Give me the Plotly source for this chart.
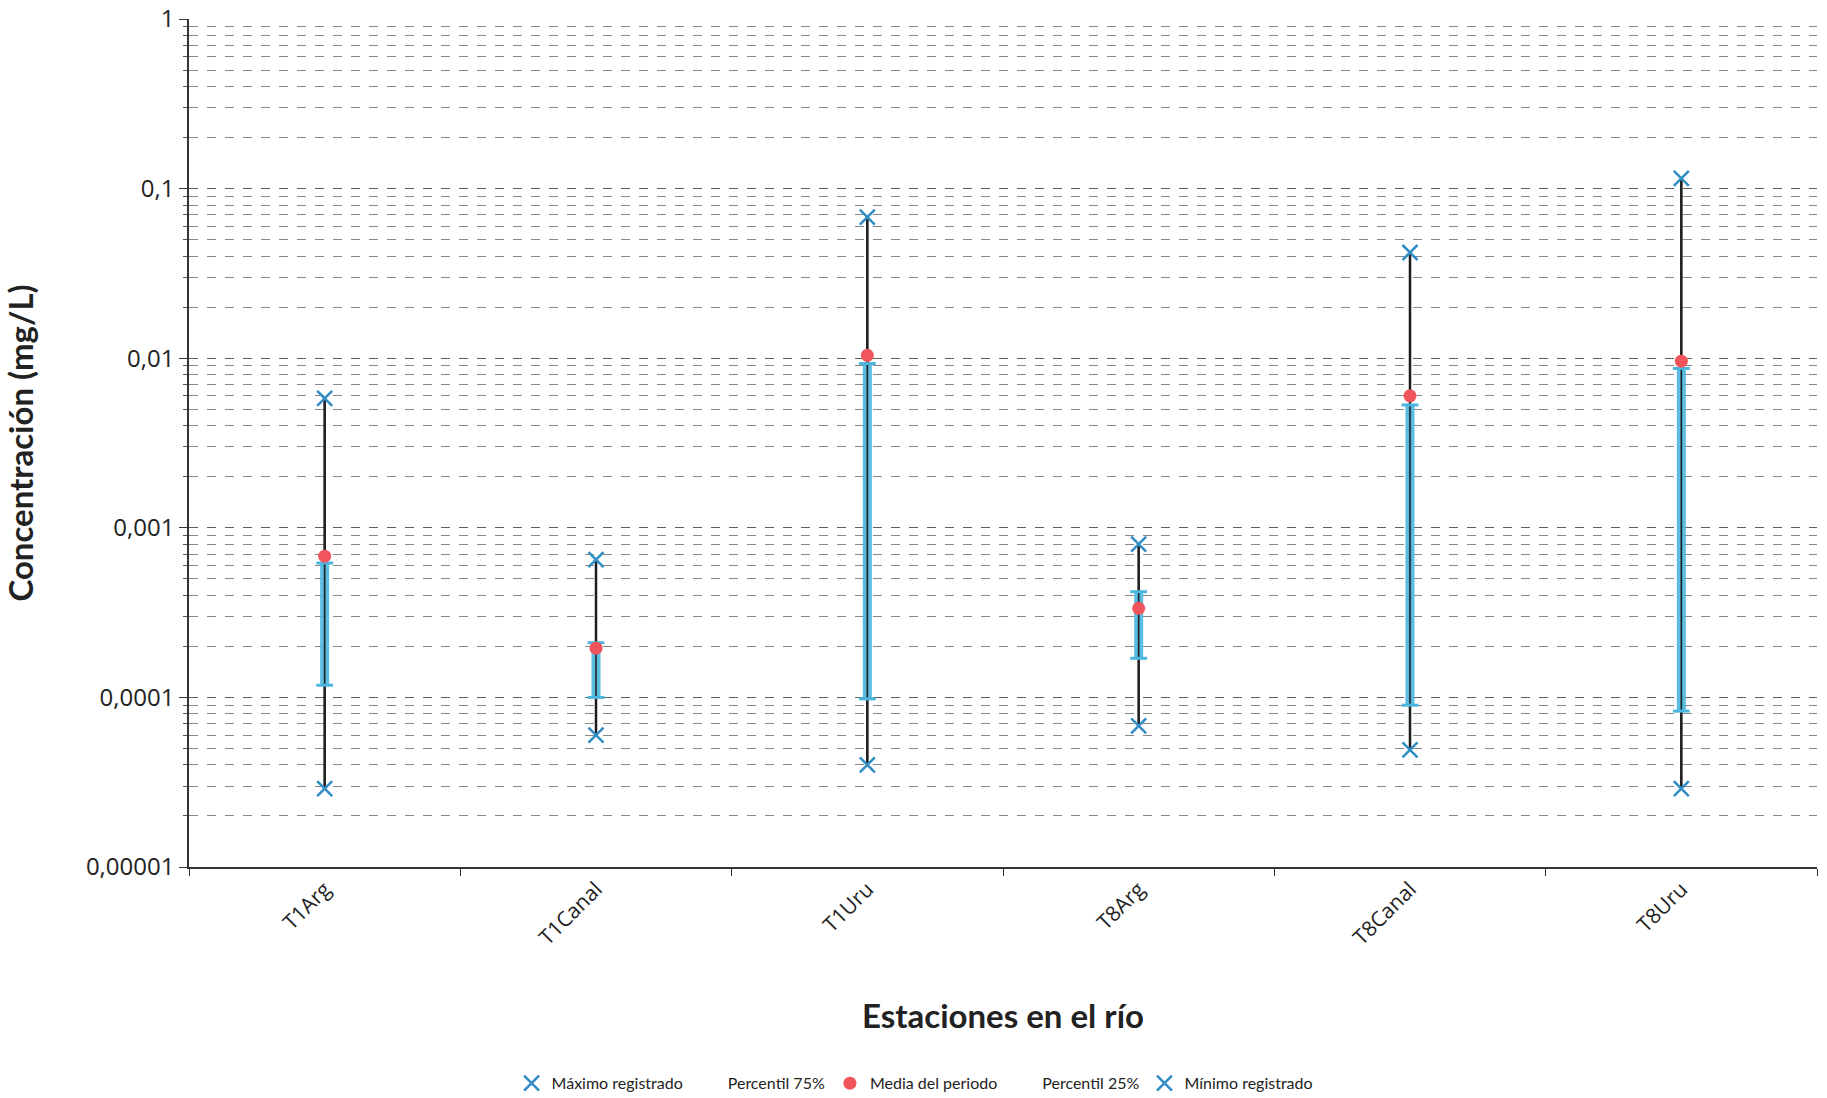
import plotly.graph_objects as go

stations = ["T1Arg", "T1Canal", "T1Uru", "T8Arg", "T8Canal", "T8Uru"]
maximo = [0.0058, 0.00065, 0.068, 0.00080, 0.042, 0.115]
p75 = [0.00062, 0.00021, 0.0093, 0.00042, 0.0053, 0.0087]
media = [0.00068, 0.000195, 0.0104, 0.000335, 0.0060, 0.0096]
p25 = [0.000118, 0.000100, 0.000098, 0.000170, 0.000090, 0.000083]
minimo = [0.000029, 0.000060, 0.000040, 0.000068, 0.000049, 0.000029]

ytick_vals = [1, 0.1, 0.01, 0.001, 0.0001, 0.00001]
ytick_text = ["1", "0,1", "0,01", "0,001", "0,0001", "0,00001"]

BLUE_X = "#2f8cc4"
BLUE_BAR = "#4ab6de"
RED = "#f2545b"

def segs(a, b):
    xs, ys = [], []
    for s, lo, hi in zip(stations, a, b):
        xs += [s, s, None]
        ys += [lo, hi, None]
    return xs, ys

fig = go.Figure()

hx, hy = segs(minimo, maximo)
fig.add_trace(go.Scatter(x=hx, y=hy, mode="lines", line=dict(color="#111111", width=2.5),
                         showlegend=False, hoverinfo="skip"))
bx, by = segs(p25, p75)
fig.add_trace(go.Scatter(x=bx, y=by, mode="lines", line=dict(color=BLUE_BAR, width=9),
                         opacity=0.9, showlegend=False, hoverinfo="skip"))
fig.add_trace(go.Scatter(x=hx, y=hy, mode="lines", line=dict(color="#222222", width=1.5),
                         showlegend=False, hoverinfo="skip"))
fig.add_trace(go.Scatter(x=stations + stations, y=p75 + p25, mode="markers",
                         marker=dict(symbol="line-ew", size=12, line=dict(color=BLUE_BAR, width=3)),
                         showlegend=False, hoverinfo="skip"))

fig.add_trace(go.Scatter(x=stations, y=maximo, mode="markers", name="Máximo registrado",
                         marker=dict(symbol="x-thin", size=15, line=dict(color=BLUE_X, width=2.5))))
fig.add_trace(go.Scatter(x=stations, y=p75, mode="markers", name="Percentil 75%",
                         marker=dict(size=8, color="rgba(0,0,0,0)")))
fig.add_trace(go.Scatter(x=stations, y=media, mode="markers", name="Media del periodo",
                         marker=dict(symbol="circle", size=13, color=RED)))
fig.add_trace(go.Scatter(x=stations, y=p25, mode="markers", name="Percentil 25%",
                         marker=dict(size=8, color="rgba(0,0,0,0)")))
fig.add_trace(go.Scatter(x=stations, y=minimo, mode="markers", name="Mínimo registrado",
                         marker=dict(symbol="x-thin", size=15, line=dict(color=BLUE_X, width=2.5))))

fig.update_layout(
    width=1827, height=1098,
    margin=dict(l=189, r=10, t=19, b=231, autoexpand=False),
    paper_bgcolor="white", plot_bgcolor="white",
    font=dict(family="Open Sans, sans-serif", color="#222222"),
    legend=dict(orientation="h", x=0.446, xanchor="center", y=-0.255, yanchor="middle",
                font=dict(size=16, family="Lato, sans-serif", color="#222222"),
                itemwidth=30, tracegroupgap=0),
)

fig.update_xaxes(
    type="category", categoryorder="array", categoryarray=stations,
    range=[-0.5, 5.5], automargin=False,
    showline=True, linecolor="#333333", linewidth=1.5,
    ticks="outside", tickson="boundaries", ticklen=7, tickcolor="#333333",
    tickangle=-45, tickfont=dict(size=21, family="Open Sans, sans-serif"),
    showgrid=False,
    title=dict(text="Estaciones en el río", font=dict(size=33, family="Lato, sans-serif", weight="bold"),
               standoff=55),
)

fig.update_yaxes(
    type="log", range=[-5, 0], automargin=False,
    tickvals=ytick_vals, ticktext=ytick_text, ticklabeloverflow="allow",
    tickfont=dict(size=24, family="Open Sans, sans-serif"),
    showline=True, linecolor="#333333", linewidth=1.5,
    ticks="outside", ticklen=8, tickcolor="#333333",
    showgrid=True, gridcolor="#5f5f5f", gridwidth=1, griddash="dash",
    minor=dict(dtick="D1", showgrid=True, gridcolor="#888888", griddash="dash", gridwidth=1,
               ticks="outside", ticklen=4, tickcolor="#555555"),
    title=dict(text="Concentración (mg/L)", font=dict(size=33, family="Lato, sans-serif", weight="bold"),
               standoff=45),
)

fig.write_html("out.html", config={"displayModeBar": False},
               post_script="document.body.style.margin='0';")
